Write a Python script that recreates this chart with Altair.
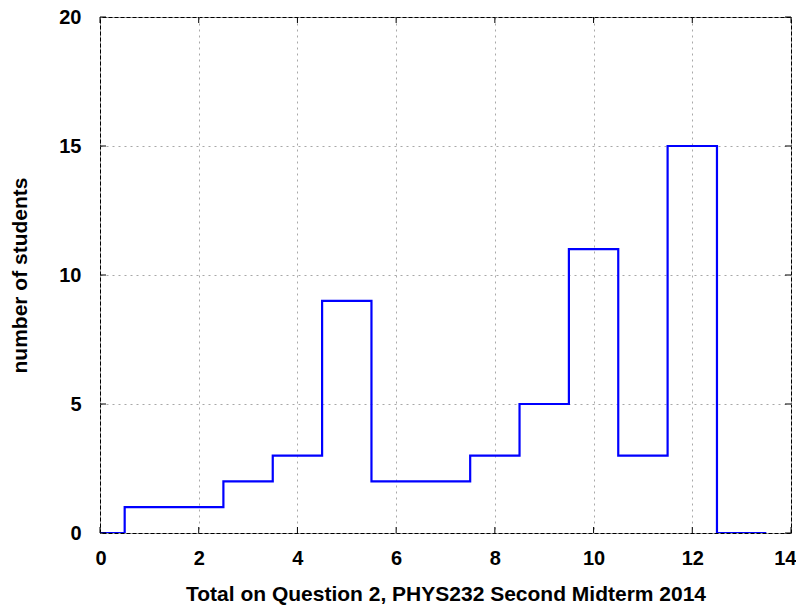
import altair as alt
import pandas as pd

# Histogram data: score on Question 2 (bin centres) and number of students
scores = [0, 1, 2, 3, 4, 5, 6, 7, 8, 9, 10, 11, 12, 13]
counts = [0, 1, 1, 2, 3, 9, 2, 2, 3, 5, 11, 3, 15, 0]

x_ticks = [0, 2, 4, 6, 8, 10, 12, 14]
y_ticks = [0, 5, 10, 15, 20]

W, H = 691, 516
TL = 6  # inward tick length
FONT = "Liberation Sans"

# histogram steps: left edges of each unit bin plus the final right edge
edges = [s - 0.5 for s in scores] + [scores[-1] + 0.5]
vals = counts + [counts[-1]]
df = pd.DataFrame({"x": edges, "y": vals})

xs = alt.Scale(domain=[0, 14], nice=False, zero=False)
ys = alt.Scale(domain=[0, 20], nice=False)

line = alt.Chart(df).mark_line(
    interpolate="step-after", color="#0000ff", strokeWidth=2.2, clip=True
).encode(
    x=alt.X("x:Q", scale=xs,
            axis=alt.Axis(values=x_ticks, title="Total on Question 2, PHYS232 Second Midterm 2014",
                          titleY=67, titleBaseline="alphabetic",
                          labelFlush=True, labelFlushOffset=5,
                          labelPadding=31, labelBaseline="alphabetic")),
    y=alt.Y("y:Q", scale=ys,
            axis=alt.Axis(values=y_ticks, title="number of students",
                          titleX=-74, titleBaseline="alphabetic", labelFlush=False,
                          labelPadding=19, labelBaseline="middle")),
)

xt = pd.DataFrame({"t": x_ticks})
yt = pd.DataFrame({"t": y_ticks})

tick_style = dict(color="#000000", strokeWidth=1)
bx = alt.Chart(xt).mark_rule(**tick_style).encode(
    x=alt.X("t:Q", scale=xs), y=alt.value(H), y2=alt.value(H - TL))
tx = alt.Chart(xt).mark_rule(**tick_style).encode(
    x=alt.X("t:Q", scale=xs), y=alt.value(0), y2=alt.value(TL))
ly = alt.Chart(yt).mark_rule(**tick_style).encode(
    y=alt.Y("t:Q", scale=ys), x=alt.value(0), x2=alt.value(TL))
ry = alt.Chart(yt).mark_rule(**tick_style).encode(
    y=alt.Y("t:Q", scale=ys), x=alt.value(W), x2=alt.value(W - TL))

chart = alt.layer(line, bx, tx, ly, ry).properties(
    width=W, height=H,
    autosize=alt.AutoSizeParams(type="none"),
    padding={"left": 92, "top": 9, "right": 5, "bottom": 75},
).configure_view(
    stroke="#000000", strokeWidth=1
).configure_axis(
    domain=False, ticks=False,
    grid=True, gridColor="#a8a8a8", gridDash=[2, 4], gridWidth=1,
    labelFont=FONT, labelFontSize=20, labelFontWeight="bold", labelColor="#000000",
    titleFont=FONT, titleFontSize=21, titleFontWeight="bold", titleColor="#000000",
)

chart.save("out.html", embed_options={"renderer": "svg", "actions": False})
